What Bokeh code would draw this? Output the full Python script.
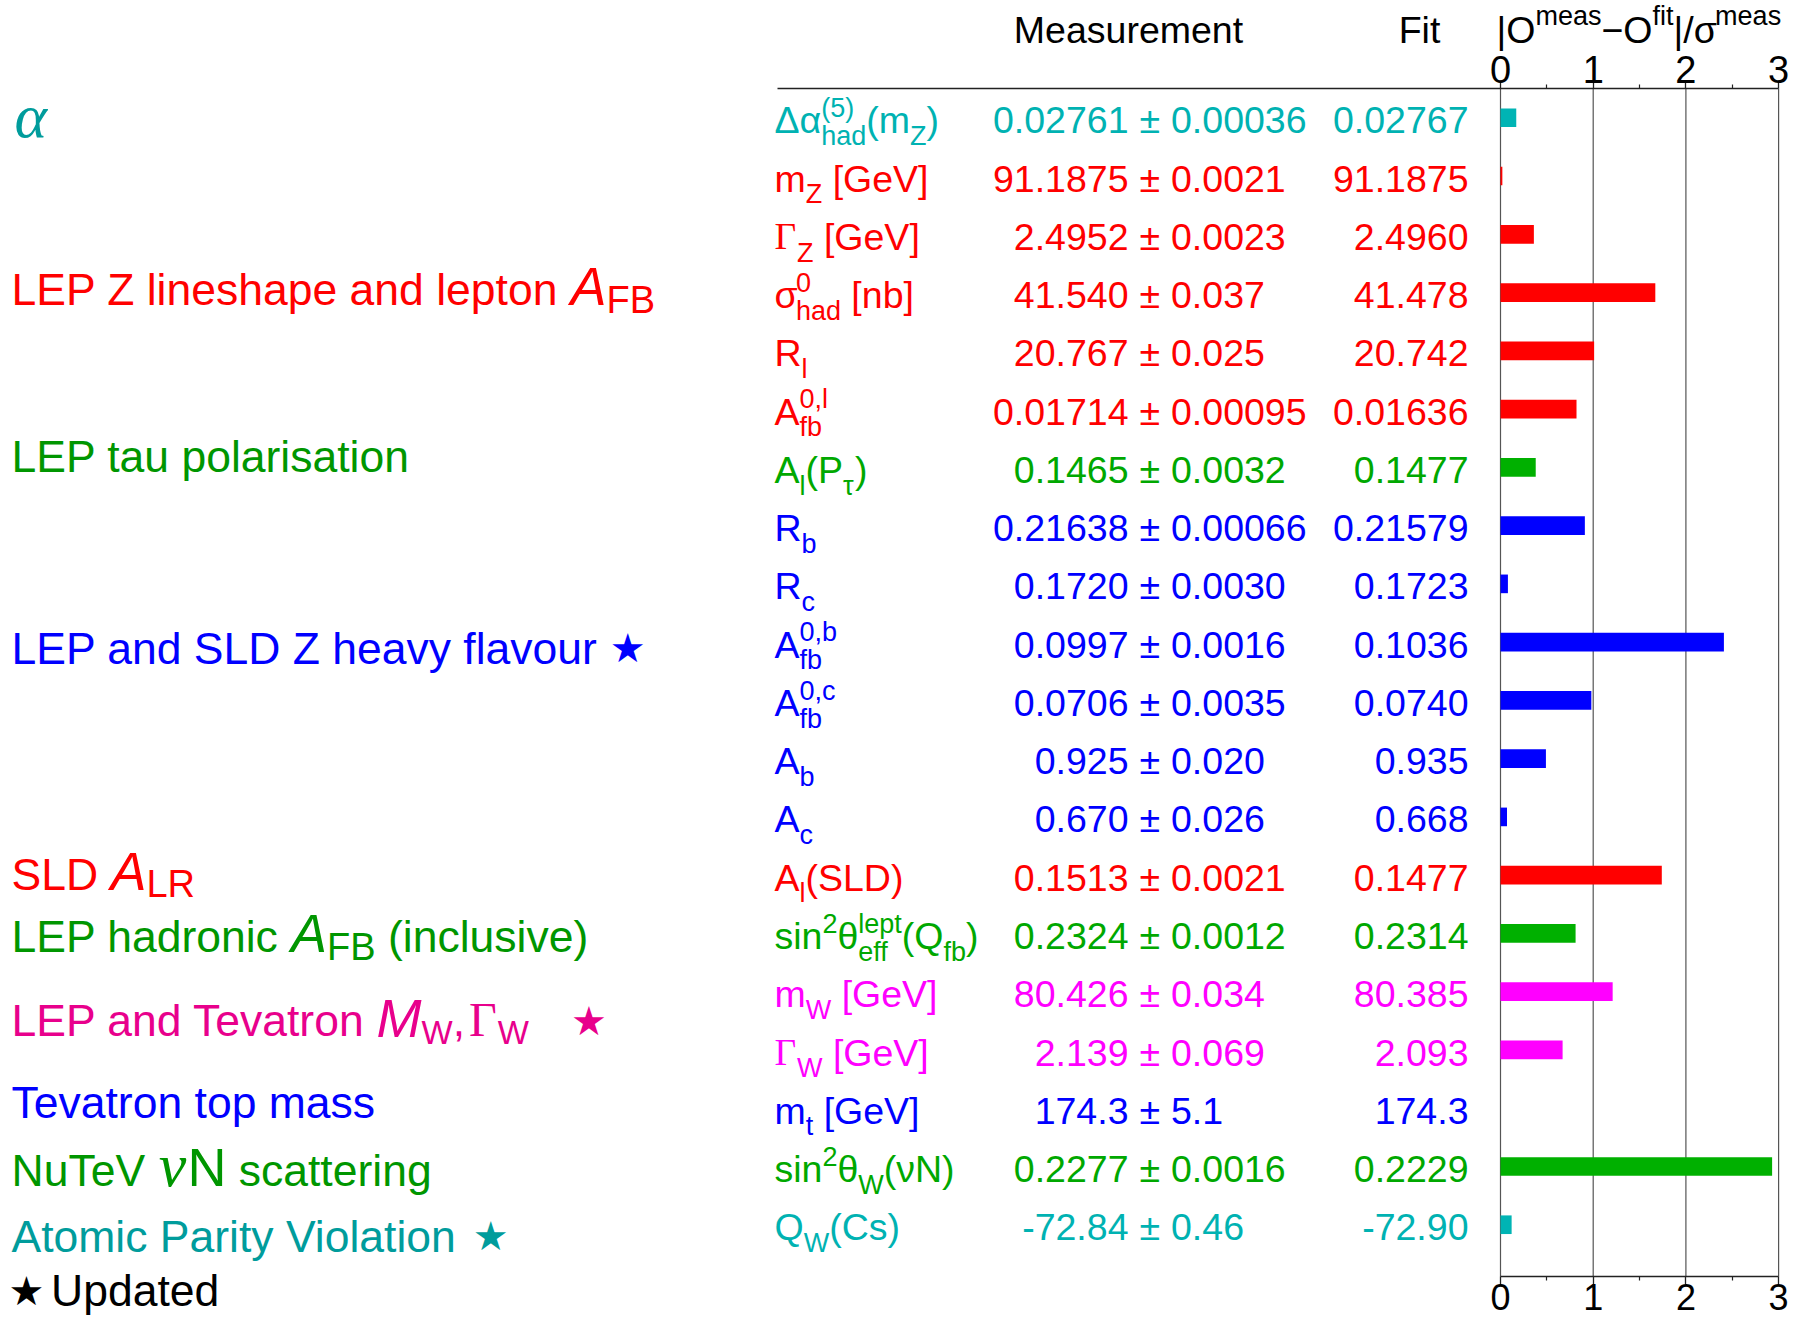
from bokeh.plotting import figure
from bokeh.models import ColumnDataSource, Range1d, LinearAxis, FixedTicker
from bokeh.core.properties import value
from bokeh.embed import file_html
from bokeh.resources import INLINE

# ------------------------------------------------------------------ data
# observable names as (text, role) pieces: "n" normal, "^" superscript, "_" subscript,
# "G" serif capital Greek; role "k" is a horizontal kern in px
row_labels = [
    [("Δα", "n"), ("(5)", "^"), ("had", "_"), ("(m", "n"), ("Z", "_"), (")", "n")],
    [("m", "n"), ("Z", "_"), (" [GeV]", "n")],
    [("Γ", "G"), ("Z", "_"), (" [GeV]", "n")],
    [("σ", "n"), ("0", "^"), ("had", "_"), (" [nb]", "n")],
    [("R", "n"), ("l", "_")],
    [("A", "n"), ("0,l", "^"), ("fb", "_")],
    [("A", "n"), ("l", "_"), ("(P", "n"), ("τ", "_"), (")", "n")],
    [("R", "n"), ("b", "_")],
    [("R", "n"), ("c", "_")],
    [("A", "n"), ("0,b", "^"), ("fb", "_")],
    [("A", "n"), ("0,c", "^"), ("fb", "_")],
    [("A", "n"), ("b", "_")],
    [("A", "n"), ("c", "_")],
    [("A", "n"), ("l", "_"), ("(SLD)", "n")],
    [("sin", "n"), ("2", "^"), ("θ", "n"), ("lept", "^"), ("eff", "_"), ("(Q", "n"), ("fb", "_"), (")", "n")],
    [("m", "n"), ("W", "_"), (" [GeV]", "n")],
    [("Γ", "G"), ("W", "_"), (" [GeV]", "n")],
    [("m", "n"), ("t", "_"), (" [GeV]", "n")],
    [("sin", "n"), ("2", "^"), ("θ", "n"), ("W", "_"), ("(νN)", "n")],
    [("Q", "n"), ("W", "_"), ("(Cs)", "n")],
]
meas_values = ["0.02761", "91.1875", "2.4952", "41.540", "20.767", "0.01714", "0.1465",
               "0.21638", "0.1720", "0.0997", "0.0706", "0.925", "0.670", "0.1513",
               "0.2324", "80.426", "2.139", "174.3", "0.2277", "-72.84"]
meas_errors = ["0.00036", "0.0021", "0.0023", "0.037", "0.025", "0.00095", "0.0032",
               "0.00066", "0.0030", "0.0016", "0.0035", "0.020", "0.026", "0.0021",
               "0.0012", "0.034", "0.069", "5.1", "0.0016", "0.46"]
fit_values = ["0.02767", "91.1875", "2.4960", "41.478", "20.742", "0.01636", "0.1477",
              "0.21579", "0.1723", "0.1036", "0.0740", "0.935", "0.668", "0.1477",
              "0.2314", "80.385", "2.093", "174.3", "0.2229", "-72.90"]
pulls = [0.17, 0.02, 0.36, 1.67, 1.01, 0.82, 0.38, 0.91, 0.08, 2.41, 0.98, 0.49, 0.07,
         1.74, 0.81, 1.21, 0.67, 0.00, 2.93, 0.12]
row_class = ["alpha", "red", "red", "red", "red", "red", "green", "blue", "blue", "blue",
             "blue", "blue", "blue", "red", "green", "magenta", "magenta", "blue", "green",
             "alpha"]

group_labels = [
    [("3", "k"), ("α", "g")],
    [("LEP Z lineshape and lepton ", "L"), ("A", "I"), ("FB", "S")],
    [("LEP tau polarisation", "L")],
    [("LEP and SLD Z heavy flavour", "L"), ("12", "k"), ("★", "*")],
    [("SLD ", "L"), ("A", "I"), ("LR", "S")],
    [("LEP hadronic ", "L"), ("A", "I"), ("FB", "S"), (" (inclusive)", "L")],
    [("LEP and Tevatron ", "L"), ("-6", "k"), ("M", "I"), ("W", "s"), (",", "L"), ("4", "k"),
     ("Γ", "G"), ("W", "s"), ("42", "k"), ("★", "*")],
    [("Tevatron top mass", "L")],
    [("NuTeV ", "L"), ("-3.5", "k"), ("ν", "g"), ("N", "N"), (" scattering", "L")],
    [("Atomic Parity Violation", "L"), ("16", "k"), ("★", "*")],
    [("-3", "k"), ("★", "*"), ("9", "k"), ("Updated", "L")],
]
group_class = ["alpha_l", "red", "green_l", "blue", "red", "green_l", "pink", "blue",
               "green_l", "alpha_l", "black"]

header_meas = "Measurement"
header_fit = "Fit"
header_pull = [("|O", "n"), ("meas", "^"), ("−O", "n"), ("fit", "^"), ("|/σ", "n"), ("meas", "^")]
axis_ticks = [0, 1, 2, 3]
axis_minor = [0.5, 1.5, 2.5]

# ------------------------------------------------------------------ styles / layout
text_colors = {"alpha": "#00B2B2", "red": "#FF0000", "green": "#00A800", "blue": "#0000FF",
               "magenta": "#FF00FF", "alpha_l": "#009C9C", "green_l": "#009600",
               "pink": "#E8008C", "black": "#000000"}
bar_colors = {"alpha": "#00B4B4", "red": "#FF0000", "green": "#00B000", "blue": "#0000FF",
              "magenta": "#FF00FF"}
group_rows = [0.07, 2.95, 5.81, 9.10, 12.98, 14.05, 15.5, 16.9, 18.07, 19.2, 20.13]

SANS, SERIF, SYM = "Liberation Sans", "Liberation Serif", "DejaVu Sans"
row_roles = {"n": (37.5, SANS, "normal", 0), "^": (27, SANS, "normal", -16), "_": (27, SANS, "normal", 12),
             "G": (37.5, SERIF, "normal", 0)}
head_roles = {"n": (37.5, SANS, "normal", 0), "^": (27, SANS, "normal", -18), "_": (27, SANS, "normal", 12)}
left_roles = {"L": (44.5, SANS, "normal", 0), "I": (54, SANS, "italic", 0), "S": (38, SANS, "normal", 8),
              "s": (33, SANS, "normal", 8), "G": (48, SERIF, "normal", 0), "g": (62, SERIF, "italic", 0),
              "N": (54, SANS, "normal", 0), "*": (40, SYM, "normal", -1.7)}

W = 1789
H = 1318
X0 = 1500.0       # canvas px of pull 0
PPU = 92.7        # px per pull unit
Y0 = 119.5        # canvas px of first row centre
ROWH = 58.26      # row pitch px
BASE = 13.5       # baseline below row centre (px)
KB = 0.35         # renderer baseline shift (fraction of font size)


def xd(px):
    return (px - X0) / PPU


def yd(px):
    return (px - Y0) / ROWH


TOP_LOC = yd(88)
BOT_LOC = yd(1276)

# approximate advance widths (per 1000 em)
AW = {' ': 278, '(': 333, ')': 333, ',': 278, '-': 333, '.': 278, '/': 278, '[': 278, ']': 278,
      '|': 260, '±': 550, '−': 584,
      'A': 667, 'B': 667, 'C': 722, 'D': 722, 'E': 667, 'F': 611, 'G': 778, 'H': 722, 'I': 278,
      'J': 500, 'K': 667, 'L': 556, 'M': 833, 'N': 722, 'O': 778, 'P': 667, 'Q': 778, 'R': 722,
      'S': 667, 'T': 611, 'U': 722, 'V': 667, 'W': 944, 'X': 667, 'Y': 667, 'Z': 611,
      'a': 556, 'b': 556, 'c': 500, 'd': 556, 'e': 556, 'f': 278, 'g': 556, 'h': 556, 'i': 222,
      'j': 222, 'k': 500, 'l': 222, 'm': 833, 'n': 556, 'o': 556, 'p': 556, 'q': 556, 'r': 333,
      's': 500, 't': 278, 'u': 556, 'v': 500, 'w': 722, 'x': 500, 'y': 500, 'z': 500,
      'Δ': 668, 'α': 578, 'σ': 571, 'Γ': 552, 'θ': 556, 'ν': 500, 'τ': 440}
AW_SERIF = {'α': 540, 'ν': 460, 'Γ': 600}
AW_SYM = {'★': 838}


def tw(s, size, font):
    tot = 0
    for c in s:
        if font == SERIF:
            tot += AW_SERIF.get(c, 556)
        elif font == SYM:
            tot += AW_SYM.get(c, 600)
        else:
            tot += 556 if c.isdigit() else AW.get(c, 556)
    return tot * size / 1000.0


pieces = []


def put(x, y, off, text, size, font, style, dy, base, color, align="left"):
    # leading spaces are collapsed in SVG: turn them into an offset
    stripped = text.lstrip(" ")
    lead = tw(text[:len(text) - len(stripped)], size, font)
    if stripped:
        pieces.append(dict(x=x, y=y, xo=off + lead, yo=base + dy - KB * size, text=stripped,
                           size=f"{size}px", font=font, style=style, color=color, align=align))


def rich(segs, roles, x, y, base, color):
    off = 0.0
    k = 0
    while k < len(segs):
        t, r = segs[k]
        if r == "k":
            off += float(t)
            k += 1
            continue
        size, font, style, dy = roles[r]
        if r in "^_" and k + 1 < len(segs) and segs[k + 1][1] in "^_" and segs[k + 1][1] != r:
            t2, r2 = segs[k + 1]
            s2, f2, st2, dy2 = roles[r2]
            put(x, y, off, t, size, font, style, dy, base, color)
            put(x, y, off, t2, s2, f2, st2, dy2, base, color)
            off += max(tw(t, size, font), tw(t2, s2, f2))
            k += 2
        else:
            put(x, y, off, t, size, font, style, dy, base, color)
            off += tw(t, size, font)
            k += 1


def simple(text, x, y, base, color, align, size=37.5, font=SANS):
    pieces.append(dict(x=x, y=y, xo=0, yo=base - KB * size, text=text, size=f"{size}px",
                       font=font, style="normal", color=color, align=align))


# rows
for i, segs in enumerate(row_labels):
    col = text_colors[row_class[i]]
    rich(segs, row_roles, xd(774), i, BASE, col)
    simple(meas_values[i], xd(1128), i, BASE, col, "right")
    simple("±", xd(1149.4), i, BASE, col, "center")
    simple(meas_errors[i], xd(1170.5), i, BASE, col, "left")
    simple(fit_values[i], xd(1468), i, BASE, col, "right")

# group labels on the left
for segs, cls, gy in zip(group_labels, group_class, group_rows):
    rich(segs, left_roles, xd(11), gy, BASE, text_colors[cls])

# headers (baseline 45 px above the top axis line)
simple(header_meas, xd(1128), TOP_LOC, -45, "#000000", "center")
simple(header_fit, xd(1419), TOP_LOC, -45, "#000000", "center")
rich(header_pull, head_roles, xd(1496), TOP_LOC, -45, "#000000")

# ------------------------------------------------------------------ figure
p = figure(width=W, height=H, output_backend="svg", toolbar_location=None,
           x_range=Range1d(xd(0), xd(W)), y_range=Range1d(yd(H), yd(0)),
           x_axis_location=None, y_axis_location=None,
           min_border=0, min_border_left=0, min_border_right=0,
           min_border_top=0, min_border_bottom=0)
p.outline_line_color = None
p.xgrid.visible = False
p.ygrid.visible = False
p.background_fill_color = "white"
p.border_fill_color = "white"

# vertical reference lines at the integer pulls
p.segment(x0=axis_ticks, x1=axis_ticks, y0=[TOP_LOC] * len(axis_ticks), y1=[BOT_LOC] * len(axis_ticks),
          line_color="#555555", line_width=1.2)

# pull bars
bar_y = [i - 0.038 for i in range(len(pulls))]
bsrc = ColumnDataSource(dict(y=bar_y, right=pulls, color=[bar_colors[c] for c in row_class]))
p.hbar(y="y", left=0, right="right", height=0.32, fill_color="color", line_color=None, source=bsrc)

# texts
groups = {}
for d in pieces:
    groups.setdefault((d["font"], d["style"], d["align"]), []).append(d)
for (font, style, align), lst in groups.items():
    src = ColumnDataSource({k: [d[k] for d in lst] for k in ("x", "y", "xo", "yo", "text", "size", "color")})
    p.text(x="x", y="y", text="text", x_offset="xo", y_offset="yo", source=src,
           text_font=value(font), text_font_style=style, text_align=align,
           text_baseline="alphabetic", text_font_size="size", text_color="color")

# axes
for loc, side, bounds, standoff, fs in [(TOP_LOC, "above", (xd(777), 3), -2, "38px"),
                                        (BOT_LOC, "below", (0, 3), -1, "36px")]:
    ax = LinearAxis(ticker=FixedTicker(ticks=axis_ticks, minor_ticks=axis_minor),
                    fixed_location=loc, bounds=bounds)
    ax.axis_line_color = "#222222"
    ax.axis_line_width = 1.3
    ax.major_tick_line_color = "#222222"
    ax.major_tick_line_width = 1.3
    ax.major_tick_out = 8
    ax.major_tick_in = 0
    ax.minor_tick_line_color = "#222222"
    ax.minor_tick_line_width = 1.2
    ax.minor_tick_out = 4
    ax.minor_tick_in = 0
    ax.major_label_text_font = SANS
    ax.major_label_text_font_size = fs
    ax.major_label_text_color = "#000000"
    ax.major_label_standoff = standoff
    p.add_layout(ax, side)

open("out.html", "w").write(file_html(p, INLINE))
